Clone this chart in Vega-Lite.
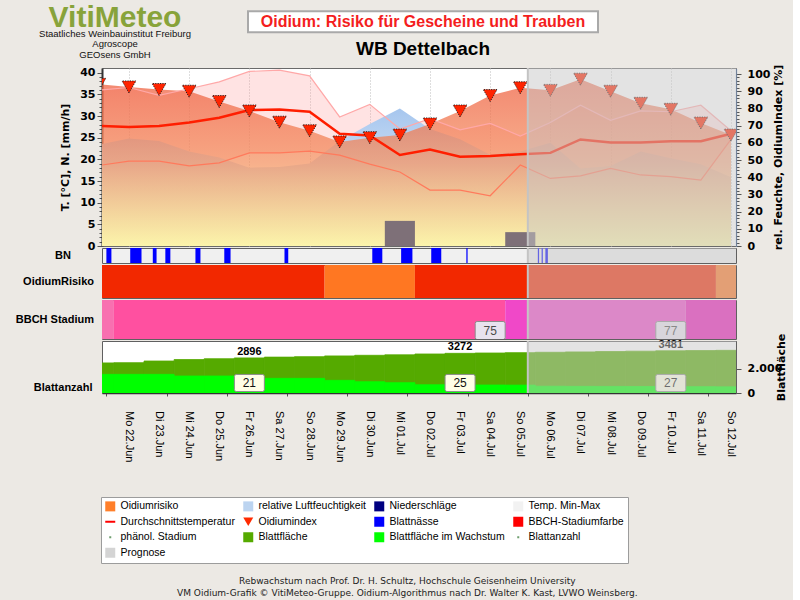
{
  "$schema": "https://vega.github.io/schema/vega-lite/v6.json",
  "usermeta": {"embedOptions": {"actions": false}},
  "background": "#ECE9E4",
  "padding": {"left": 15, "top": 2, "right": 5, "bottom": 2},
  "bounds": "flush",
  "spacing": 2,
  "title": {
    "text": "Rebwachstum nach Prof. Dr. H. Schultz, Hochschule Geisenheim University",
    "subtitle": "VM Oidium-Grafik © VitiMeteo-Gruppe. Oidium-Algorithmus nach Dr. Walter K. Kast, LVWO Weinsberg.",
    "orient": "bottom", "anchor": "middle", "offset": 13, "dx": 6,
    "font": "DejaVu Sans", "fontSize": 9, "fontWeight": "normal", "color": "#222222",
    "subtitleFont": "DejaVu Sans", "subtitleFontSize": 9, "subtitleColor": "#222222", "subtitlePadding": 3
  },
  "resolve": {"scale": {"color": "independent", "fill": "independent", "shape": "independent"}},
  "datasets": {
    "daily": [
      {"date": "2020-06-21T00:00:00", "tmax": 36.0, "tavg": 27.7, "tmin": 18.6, "rh": 59, "oi": 94},
      {"date": "2020-06-22T00:00:00", "tmax": 36.6, "tavg": 27.5, "tmin": 19.6, "rh": 62.5, "oi": 92.5},
      {"date": "2020-06-23T00:00:00", "tmax": 34.8, "tavg": 27.7, "tmin": 19.6, "rh": 61, "oi": 91},
      {"date": "2020-06-24T00:00:00", "tmax": 36.3, "tavg": 28.5, "tmin": 18.5, "rh": 55, "oi": 90},
      {"date": "2020-06-25T00:00:00", "tmax": 37.9, "tavg": 29.6, "tmin": 19.2, "rh": 51.5, "oi": 84},
      {"date": "2020-06-26T00:00:00", "tmax": 40.3, "tavg": 31.4, "tmin": 21.5, "rh": 45.5, "oi": 78.5},
      {"date": "2020-06-27T00:00:00", "tmax": 40.6, "tavg": 31.5, "tmin": 21.5, "rh": 46, "oi": 72},
      {"date": "2020-06-28T00:00:00", "tmax": 39.3, "tavg": 31.0, "tmin": 21.9, "rh": 48, "oi": 67},
      {"date": "2020-06-29T00:00:00", "tmax": 29.8, "tavg": 25.9, "tmin": 21.0, "rh": 61, "oi": 60.5},
      {"date": "2020-06-30T00:00:00", "tmax": 32.7, "tavg": 25.5, "tmin": 18.9, "rh": 71, "oi": 63},
      {"date": "2020-07-01T00:00:00", "tmax": 27.0, "tavg": 21.0, "tmin": 17.1, "rh": 80, "oi": 64.5},
      {"date": "2020-07-02T00:00:00", "tmax": 29.4, "tavg": 22.3, "tmin": 12.9, "rh": 68, "oi": 71},
      {"date": "2020-07-03T00:00:00", "tmax": 26.8, "tavg": 20.6, "tmin": 12.9, "rh": 62, "oi": 78.5},
      {"date": "2020-07-04T00:00:00", "tmax": 28.3, "tavg": 20.8, "tmin": 11.6, "rh": 53, "oi": 87.5},
      {"date": "2020-07-05T00:00:00", "tmax": 25.4, "tavg": 21.2, "tmin": 18.7, "rh": 55, "oi": 92},
      {"date": "2020-07-06T00:00:00", "tmax": 28.5, "tavg": 21.5, "tmin": 15.6, "rh": 60, "oi": 90.5},
      {"date": "2020-07-07T00:00:00", "tmax": 32.5, "tavg": 24.6, "tmin": 16.2, "rh": 45, "oi": 97},
      {"date": "2020-07-08T00:00:00", "tmax": 29.0, "tavg": 23.9, "tmin": 17.9, "rh": 46.5, "oi": 90},
      {"date": "2020-07-09T00:00:00", "tmax": 31.2, "tavg": 23.9, "tmin": 16.4, "rh": 55, "oi": 83},
      {"date": "2020-07-10T00:00:00", "tmax": 31.0, "tavg": 24.2, "tmin": 16.0, "rh": 51, "oi": 79.5},
      {"date": "2020-07-11T00:00:00", "tmax": 32.5, "tavg": 24.2, "tmin": 15.2, "rh": 47.5, "oi": 71.5},
      {"date": "2020-07-12T00:00:00", "tmax": 26.6, "tavg": 25.9, "tmin": 24.6, "rh": 40, "oi": 64.5}
    ],
    "days": [
      {"date": "2020-06-22T00:00:00", "label": "Mo 22.Jun"},
      {"date": "2020-06-23T00:00:00", "label": "Di 23.Jun"},
      {"date": "2020-06-24T00:00:00", "label": "Mi 24.Jun"},
      {"date": "2020-06-25T00:00:00", "label": "Do 25.Jun"},
      {"date": "2020-06-26T00:00:00", "label": "Fr 26.Jun"},
      {"date": "2020-06-27T00:00:00", "label": "Sa 27.Jun"},
      {"date": "2020-06-28T00:00:00", "label": "So 28.Jun"},
      {"date": "2020-06-29T00:00:00", "label": "Mo 29.Jun"},
      {"date": "2020-06-30T00:00:00", "label": "Di 30.Jun"},
      {"date": "2020-07-01T00:00:00", "label": "Mi 01.Jul"},
      {"date": "2020-07-02T00:00:00", "label": "Do 02.Jul"},
      {"date": "2020-07-03T00:00:00", "label": "Fr 03.Jul"},
      {"date": "2020-07-04T00:00:00", "label": "Sa 04.Jul"},
      {"date": "2020-07-05T00:00:00", "label": "So 05.Jul"},
      {"date": "2020-07-06T00:00:00", "label": "Mo 06.Jul"},
      {"date": "2020-07-07T00:00:00", "label": "Di 07.Jul"},
      {"date": "2020-07-08T00:00:00", "label": "Mi 08.Jul"},
      {"date": "2020-07-09T00:00:00", "label": "Do 09.Jul"},
      {"date": "2020-07-10T00:00:00", "label": "Fr 10.Jul"},
      {"date": "2020-07-11T00:00:00", "label": "Sa 11.Jul"},
      {"date": "2020-07-12T00:00:00", "label": "So 12.Jul"}
    ],
    "precip": [
      {"start": "2020-06-30T12:00:00", "end": "2020-07-01T12:00:00", "n": 5.8},
      {"start": "2020-07-04T12:00:00", "end": "2020-07-05T12:00:00", "n": 3.2}
    ],
    "prog": [{"start": "2020-07-05T06:00:00", "end": "2020-07-12T12:00:00"}],
    "bn": [
      {"start": "2020-06-21T06:00:00", "end": "2020-06-21T10:00:00"},
      {"start": "2020-06-22T01:00:00", "end": "2020-06-22T10:00:00"},
      {"start": "2020-06-22T19:00:00", "end": "2020-06-22T22:00:00"},
      {"start": "2020-06-23T05:00:00", "end": "2020-06-23T09:00:00"},
      {"start": "2020-06-24T05:00:00", "end": "2020-06-24T09:00:00"},
      {"start": "2020-06-25T04:00:00", "end": "2020-06-25T09:00:00"},
      {"start": "2020-06-27T04:00:00", "end": "2020-06-27T07:00:00"},
      {"start": "2020-06-30T02:00:00", "end": "2020-06-30T10:00:00"},
      {"start": "2020-07-01T01:00:00", "end": "2020-07-01T10:00:00"},
      {"start": "2020-07-02T01:00:00", "end": "2020-07-02T09:00:00"},
      {"start": "2020-07-03T05:00:00", "end": "2020-07-03T06:00:00"},
      {"start": "2020-07-05T14:00:00", "end": "2020-07-05T15:00:00"},
      {"start": "2020-07-05T17:00:00", "end": "2020-07-05T18:00:00"},
      {"start": "2020-07-05T20:00:00", "end": "2020-07-05T22:00:00"}
    ],
    "risk": [
      {"start": "2020-06-20T12:00:00", "end": "2020-06-28T12:00:00", "risiko": "hoch"},
      {"start": "2020-06-28T12:00:00", "end": "2020-07-01T12:00:00", "risiko": "mittel"},
      {"start": "2020-07-01T12:00:00", "end": "2020-07-11T12:00:00", "risiko": "hoch"},
      {"start": "2020-07-11T12:00:00", "end": "2020-07-12T12:00:00", "risiko": "mittel"}
    ],
    "bbch": [
      {"start": "2020-06-20T12:00:00", "end": "2020-06-21T12:00:00", "stadium": "73"},
      {"start": "2020-06-21T12:00:00", "end": "2020-07-04T12:00:00", "stadium": "75"},
      {"start": "2020-07-04T12:00:00", "end": "2020-07-10T12:00:00", "stadium": "77"},
      {"start": "2020-07-10T12:00:00", "end": "2020-07-12T12:00:00", "stadium": "79"}
    ],
    "bbchlab": [
      {"date": "2020-07-04T00:00:00", "stadium": "75"},
      {"date": "2020-07-10T00:00:00", "stadium": "77"}
    ],
    "blatt": [
      {"start": "2020-06-20T12:00:00", "end": "2020-06-21T12:00:00", "bf": 2480, "bw": 1540},
      {"start": "2020-06-21T12:00:00", "end": "2020-06-22T12:00:00", "bf": 2500, "bw": 1540},
      {"start": "2020-06-22T12:00:00", "end": "2020-06-23T12:00:00", "bf": 2640, "bw": 1540},
      {"start": "2020-06-23T12:00:00", "end": "2020-06-24T12:00:00", "bf": 2760, "bw": 1400},
      {"start": "2020-06-24T12:00:00", "end": "2020-06-25T12:00:00", "bf": 2830, "bw": 1400},
      {"start": "2020-06-25T12:00:00", "end": "2020-06-26T12:00:00", "bf": 2896, "bw": 1260},
      {"start": "2020-06-26T12:00:00", "end": "2020-06-27T12:00:00", "bf": 2960, "bw": 1210},
      {"start": "2020-06-27T12:00:00", "end": "2020-06-28T12:00:00", "bf": 3000, "bw": 1210},
      {"start": "2020-06-28T12:00:00", "end": "2020-06-29T12:00:00", "bf": 3060, "bw": 1045},
      {"start": "2020-06-29T12:00:00", "end": "2020-06-30T12:00:00", "bf": 3110, "bw": 930},
      {"start": "2020-06-30T12:00:00", "end": "2020-07-01T12:00:00", "bf": 3150, "bw": 850},
      {"start": "2020-07-01T12:00:00", "end": "2020-07-02T12:00:00", "bf": 3220, "bw": 680},
      {"start": "2020-07-02T12:00:00", "end": "2020-07-03T12:00:00", "bf": 3272, "bw": 670},
      {"start": "2020-07-03T12:00:00", "end": "2020-07-04T12:00:00", "bf": 3300, "bw": 660},
      {"start": "2020-07-04T12:00:00", "end": "2020-07-05T12:00:00", "bf": 3330, "bw": 650},
      {"start": "2020-07-05T12:00:00", "end": "2020-07-06T12:00:00", "bf": 3360, "bw": 560},
      {"start": "2020-07-06T12:00:00", "end": "2020-07-07T12:00:00", "bf": 3390, "bw": 550},
      {"start": "2020-07-07T12:00:00", "end": "2020-07-08T12:00:00", "bf": 3420, "bw": 545},
      {"start": "2020-07-08T12:00:00", "end": "2020-07-09T12:00:00", "bf": 3450, "bw": 540},
      {"start": "2020-07-09T12:00:00", "end": "2020-07-10T12:00:00", "bf": 3481, "bw": 530},
      {"start": "2020-07-10T12:00:00", "end": "2020-07-11T12:00:00", "bf": 3500, "bw": 520},
      {"start": "2020-07-11T12:00:00", "end": "2020-07-12T12:00:00", "bf": 3520, "bw": 510}
    ],
    "blattlab": [
      {"date": "2020-06-26T00:00:00", "bf": 2896, "anzahl": "21"},
      {"date": "2020-07-03T00:00:00", "bf": 3272, "anzahl": "25"},
      {"date": "2020-07-10T00:00:00", "bf": 3481, "anzahl": "27"}
    ],
    "legenditems": [
      {"item": "Oidiumrisiko"}, {"item": "relative Luftfeuchtigkeit"}, {"item": "Niederschläge"}, {"item": "Temp. Min-Max"},
      {"item": "Durchschnittstemperatur"}, {"item": "Oidiumindex"}, {"item": "Blattnässe"}, {"item": "BBCH-Stadiumfarbe"},
      {"item": "phänol. Stadium"}, {"item": "Blattfläche"}, {"item": "Blattfläche im Wachstum"}, {"item": "Blattanzahl"},
      {"item": "Prognose"}
    ]
  },
  "vconcat": [
    {
      "width": 634, "height": 55,
      "view": {"stroke": null, "fill": null},
      "title": {
        "text": "VitiMeteo",
        "subtitle": ["Staatliches Weinbauinstitut Freiburg", "Agroscope", "GEOsens GmbH"],
        "orient": "top", "anchor": "start", "frame": "group", "align": "center", "dx": 13, "offset": -52,
        "font": "Liberation Sans", "fontSize": 30, "fontWeight": "bold", "color": "#88A33A",
        "subtitleFont": "Liberation Sans", "subtitleFontSize": 9.5, "subtitleColor": "#111111", "subtitlePadding": -4, "subtitleLineHeight": 10.5
      },
      "data": {"values": [
        {"row": "t", "label": "Oidium: Risiko für Gescheine und Trauben"},
        {"row": "s", "label": "WB Dettelbach"}
      ]},
      "encoding": {"y": {"field": "row", "type": "nominal", "scale": {"domain": ["t", "s"]}, "axis": null}},
      "layer": [
        {
          "transform": [{"filter": "datum.row === 't'"}],
          "mark": {"type": "point", "shape": "M-1,-0.06L1,-0.06L1,0.06L-1,0.06Z", "size": 122500, "filled": true, "fill": "#FFFFFF", "stroke": "#A9A9A9", "strokeWidth": 2, "opacity": 1},
          "encoding": {"xOffset": {"value": 4}, "yOffset": {"value": -3}}
        },
        {
          "transform": [{"filter": "datum.row === 't'"}],
          "mark": {"type": "text", "font": "Liberation Sans", "fontSize": 16, "fontWeight": "bold", "color": "#F41E1E", "dx": 4, "dy": -3},
          "encoding": {"text": {"field": "label"}}
        },
        {
          "transform": [{"filter": "datum.row === 's'"}],
          "mark": {"type": "text", "font": "Liberation Sans", "fontSize": 19, "fontWeight": "bold", "color": "#000000", "dx": 4, "dy": -3},
          "encoding": {"text": {"field": "label"}}
        }
      ]
    },
    {
      "width": 634, "height": 178,
      "view": {"fill": "#FFFFFF", "stroke": "#6A6A6A"},
      "resolve": {"scale": {"y": "independent"}},
      "layer": [
        {
          "data": {"name": "daily"},
          "mark": {"type": "area", "color": "#FF9A9A", "opacity": 0.28, "clip": true},
          "encoding": {
            "x": {"field": "date", "type": "temporal", "scale": {"domain": [{"year": 2020, "month": 6, "date": 21, "hours": 2, "minutes": 30}, {"year": 2020, "month": 7, "date": 12, "hours": 4}]},
              "axis": {"labels": false, "ticks": false, "domain": false, "title": null, "grid": true, "gridColor": "#BDBDBD", "gridDash": [1, 2],
                "values": [{"year": 2020, "month": 6, "date": 22}, {"year": 2020, "month": 6, "date": 23}, {"year": 2020, "month": 6, "date": 24}, {"year": 2020, "month": 6, "date": 25}, {"year": 2020, "month": 6, "date": 26}, {"year": 2020, "month": 6, "date": 27}, {"year": 2020, "month": 6, "date": 28}, {"year": 2020, "month": 6, "date": 29}, {"year": 2020, "month": 6, "date": 30}, {"year": 2020, "month": 7, "date": 1}, {"year": 2020, "month": 7, "date": 2}, {"year": 2020, "month": 7, "date": 3}, {"year": 2020, "month": 7, "date": 4}, {"year": 2020, "month": 7, "date": 5}, {"year": 2020, "month": 7, "date": 6}, {"year": 2020, "month": 7, "date": 7}, {"year": 2020, "month": 7, "date": 8}, {"year": 2020, "month": 7, "date": 9}, {"year": 2020, "month": 7, "date": 10}, {"year": 2020, "month": 7, "date": 11}, {"year": 2020, "month": 7, "date": 12}]}},
            "y": {"field": "tmax", "type": "quantitative", "scale": {"domain": [0, 41.1], "nice": false},
              "axis": {"orient": "left", "title": "T. [°C], N. [mm/h]", "values": [0,1,2,3,4,5,6,7,8,9,10,11,12,13,14,15,16,17,18,19,20,21,22,23,24,25,26,27,28,29,30,31,32,33,34,35,36,37,38,39,40],
                "labelExpr": "datum.value % 5 === 0 ? datum.value : ''", "labelOverlap": false,
                "tickSize": {"condition": {"test": "datum.value % 5 === 0", "value": 5}, "value": 3},
                "tickColor": "#555555", "domainColor": "#333333", "domainWidth": 2, "grid": false, "labelPadding": 2,
                "labelFont": "DejaVu Sans", "labelFontWeight": "bold", "labelFontSize": 11, "labelColor": "#000000",
                "titleFont": "DejaVu Sans", "titleFontWeight": "bold", "titleFontSize": 11, "titleColor": "#000000", "titlePadding": 9}},
            "y2": {"field": "tmin"}
          }
        },
        {
          "data": {"name": "daily"},
          "mark": {"type": "area", "clip": true, "color": {"x1": 0, "y1": 0, "x2": 0, "y2": 1, "gradient": "linear", "stops": [{"offset": 0, "color": "#A6C6EE"}, {"offset": 1, "color": "#FFFFFF"}]}},
          "encoding": {
            "x": {"field": "date", "type": "temporal", "scale": {"domain": [{"year": 2020, "month": 6, "date": 21, "hours": 2, "minutes": 30}, {"year": 2020, "month": 7, "date": 12, "hours": 4}]}},
            "y": {"field": "rh", "type": "quantitative", "scale": {"domain": [0, 103.5], "nice": false},
              "axis": {"orient": "right", "title": "rel. Feuchte, OidiumIndex [%]", "titleAngle": 270,
                "values": [0,2,4,6,8,10,12,14,16,18,20,22,24,26,28,30,32,34,36,38,40,42,44,46,48,50,52,54,56,58,60,62,64,66,68,70,72,74,76,78,80,82,84,86,88,90,92,94,96,98,100],
                "labelExpr": "datum.value % 10 === 0 ? datum.value : ''", "labelOverlap": false,
                "tickSize": {"condition": {"test": "datum.value % 10 === 0", "value": 5}, "value": 3},
                "tickColor": "#555555", "domainColor": "#7C9CCC", "domainDash": [1, 1], "domainWidth": 1.5, "grid": false, "labelPadding": 6,
                "labelFont": "DejaVu Sans", "labelFontWeight": "bold", "labelFontSize": 11, "labelColor": "#000000",
                "titleFont": "DejaVu Sans", "titleFontWeight": "bold", "titleFontSize": 11, "titleColor": "#000000", "titlePadding": 14}}
          }
        },
        {
          "data": {"name": "daily"},
          "mark": {"type": "area", "clip": true, "opacity": 0.72, "color": {"x1": 0, "y1": 0, "x2": 0, "y2": 1, "gradient": "linear", "stops": [{"offset": 0, "color": "#EE5A3A"}, {"offset": 0.5, "color": "#F4905E"}, {"offset": 1, "color": "#FAF08A"}]}},
          "encoding": {
            "x": {"field": "date", "type": "temporal", "scale": {"domain": [{"year": 2020, "month": 6, "date": 21, "hours": 2, "minutes": 30}, {"year": 2020, "month": 7, "date": 12, "hours": 4}]}},
            "y": {"field": "oi", "type": "quantitative", "scale": {"domain": [0, 103.5], "nice": false}, "axis": null}
          }
        },
        {
          "data": {"name": "precip"},
          "mark": {"type": "rect", "color": "#7E7078", "clip": true},
          "encoding": {
            "x": {"field": "start", "type": "temporal", "scale": {"domain": [{"year": 2020, "month": 6, "date": 21, "hours": 2, "minutes": 30}, {"year": 2020, "month": 7, "date": 12, "hours": 4}]}},
            "x2": {"field": "end"},
            "y": {"field": "n", "type": "quantitative", "scale": {"domain": [0, 41.1], "nice": false}, "axis": null},
            "y2": {"datum": 0}
          }
        },
        {
          "data": {"name": "daily"},
          "mark": {"type": "line", "color": "#FFA8A8", "strokeWidth": 1.2, "clip": true},
          "encoding": {
            "x": {"field": "date", "type": "temporal", "scale": {"domain": [{"year": 2020, "month": 6, "date": 21, "hours": 2, "minutes": 30}, {"year": 2020, "month": 7, "date": 12, "hours": 4}]}},
            "y": {"field": "tmax", "type": "quantitative", "scale": {"domain": [0, 41.1], "nice": false}, "axis": null}
          }
        },
        {
          "data": {"name": "daily"},
          "mark": {"type": "line", "color": "#FF7A5C", "strokeWidth": 1.2, "clip": true},
          "encoding": {
            "x": {"field": "date", "type": "temporal", "scale": {"domain": [{"year": 2020, "month": 6, "date": 21, "hours": 2, "minutes": 30}, {"year": 2020, "month": 7, "date": 12, "hours": 4}]}},
            "y": {"field": "tmin", "type": "quantitative", "scale": {"domain": [0, 41.1], "nice": false}, "axis": null}
          }
        },
        {
          "data": {"name": "daily"},
          "mark": {"type": "line", "color": "#FF1E00", "strokeWidth": 2.5, "clip": true},
          "encoding": {
            "x": {"field": "date", "type": "temporal", "scale": {"domain": [{"year": 2020, "month": 6, "date": 21, "hours": 2, "minutes": 30}, {"year": 2020, "month": 7, "date": 12, "hours": 4}]}},
            "y": {"field": "tavg", "type": "quantitative", "scale": {"domain": [0, 41.1], "nice": false}, "axis": null}
          }
        },
        {
          "data": {"name": "daily"},
          "mark": {"type": "point", "shape": "triangle-down", "size": 190, "filled": true, "fill": "#FF2400", "stroke": "#1A1A1A", "strokeWidth": 0.9, "strokeDash": [1.2, 1.2], "opacity": 1, "clip": true},
          "encoding": {
            "x": {"field": "date", "type": "temporal", "scale": {"domain": [{"year": 2020, "month": 6, "date": 21, "hours": 2, "minutes": 30}, {"year": 2020, "month": 7, "date": 12, "hours": 4}]}},
            "y": {"field": "oi", "type": "quantitative", "scale": {"domain": [0, 103.5], "nice": false}, "axis": null}
          }
        },
        {
          "data": {"name": "prog"},
          "mark": {"type": "rect", "color": "#C8C8C8", "opacity": 0.5, "clip": true},
          "encoding": {
            "x": {"field": "start", "type": "temporal", "scale": {"domain": [{"year": 2020, "month": 6, "date": 21, "hours": 2, "minutes": 30}, {"year": 2020, "month": 7, "date": 12, "hours": 4}]}},
            "x2": {"field": "end"}
          }
        },
        {
          "data": {"name": "prog"},
          "mark": {"type": "rule", "color": "#C4C4C4", "strokeWidth": 2},
          "encoding": {
            "x": {"field": "start", "type": "temporal", "scale": {"domain": [{"year": 2020, "month": 6, "date": 21, "hours": 2, "minutes": 30}, {"year": 2020, "month": 7, "date": 12, "hours": 4}]}}
          }
        }
      ]
    },
    {
      "width": 634, "height": 15,
      "view": {"fill": "#F0F0F0", "stroke": "#606060"},
      "title": {"text": "BN", "orient": "left", "angle": 0, "align": "left", "baseline": "middle", "anchor": "middle", "offset": 31, "font": "Liberation Sans", "fontSize": 11, "fontWeight": "bold", "color": "#000000"},
      "layer": [
        {
          "data": {"name": "bn"},
          "mark": {"type": "rect", "color": "#0000FF", "clip": true},
          "encoding": {
            "x": {"field": "start", "type": "temporal", "scale": {"domain": [{"year": 2020, "month": 6, "date": 21, "hours": 2, "minutes": 30}, {"year": 2020, "month": 7, "date": 12, "hours": 4}]}, "axis": null},
            "x2": {"field": "end"}
          }
        },
        {
          "data": {"name": "prog"},
          "mark": {"type": "rect", "color": "#C8C8C8", "opacity": 0.5, "clip": true},
          "encoding": {
            "x": {"field": "start", "type": "temporal", "scale": {"domain": [{"year": 2020, "month": 6, "date": 21, "hours": 2, "minutes": 30}, {"year": 2020, "month": 7, "date": 12, "hours": 4}]}, "axis": null},
            "x2": {"field": "end"}
          }
        },
        {
          "data": {"name": "prog"},
          "mark": {"type": "rule", "color": "#C4C4C4", "strokeWidth": 2},
          "encoding": {"x": {"field": "start", "type": "temporal", "scale": {"domain": [{"year": 2020, "month": 6, "date": 21, "hours": 2, "minutes": 30}, {"year": 2020, "month": 7, "date": 12, "hours": 4}]}, "axis": null}}
        }
      ]
    },
    {
      "width": 634, "height": 33,
      "view": {"fill": "#FFFFFF", "stroke": "#606060"},
      "title": {"text": "OidiumRisiko", "orient": "left", "angle": 0, "align": "left", "baseline": "middle", "anchor": "middle", "offset": 8, "font": "Liberation Sans", "fontSize": 11, "fontWeight": "bold", "color": "#000000"},
      "layer": [
        {
          "data": {"name": "risk"},
          "mark": {"type": "rect", "clip": true},
          "encoding": {
            "x": {"field": "start", "type": "temporal", "scale": {"domain": [{"year": 2020, "month": 6, "date": 21, "hours": 2, "minutes": 30}, {"year": 2020, "month": 7, "date": 12, "hours": 4}]}, "axis": null},
            "x2": {"field": "end"},
            "color": {"field": "risiko", "type": "nominal", "scale": {"domain": ["hoch", "mittel"], "range": ["#F22800", "#FF7722"]}, "legend": null}
          }
        },
        {
          "data": {"name": "prog"},
          "mark": {"type": "rect", "color": "#C8C8C8", "opacity": 0.5, "clip": true},
          "encoding": {
            "x": {"field": "start", "type": "temporal", "scale": {"domain": [{"year": 2020, "month": 6, "date": 21, "hours": 2, "minutes": 30}, {"year": 2020, "month": 7, "date": 12, "hours": 4}]}, "axis": null},
            "x2": {"field": "end"}
          }
        },
        {
          "data": {"name": "prog"},
          "mark": {"type": "rule", "color": "#C4C4C4", "strokeWidth": 2},
          "encoding": {"x": {"field": "start", "type": "temporal", "scale": {"domain": [{"year": 2020, "month": 6, "date": 21, "hours": 2, "minutes": 30}, {"year": 2020, "month": 7, "date": 12, "hours": 4}]}, "axis": null}}
        }
      ]
    },
    {
      "width": 634, "height": 39,
      "view": {"fill": "#FFFFFF", "stroke": "#606060"},
      "title": {"text": "BBCH Stadium", "orient": "left", "angle": 0, "align": "left", "baseline": "middle", "anchor": "middle", "offset": 8, "font": "Liberation Sans", "fontSize": 11, "fontWeight": "bold", "color": "#000000"},
      "layer": [
        {
          "data": {"name": "bbch"},
          "mark": {"type": "rect", "clip": true},
          "encoding": {
            "x": {"field": "start", "type": "temporal", "scale": {"domain": [{"year": 2020, "month": 6, "date": 21, "hours": 2, "minutes": 30}, {"year": 2020, "month": 7, "date": 12, "hours": 4}]}, "axis": null},
            "x2": {"field": "end"},
            "color": {"field": "stadium", "type": "nominal", "scale": {"domain": ["73", "75", "77", "79"], "range": ["#F870B0", "#FF50A0", "#F048C8", "#EC18B8"]}, "legend": null}
          }
        },
        {
          "data": {"name": "bbchlab"},
          "mark": {"type": "point", "shape": "M-0.87,-0.6L0.87,-0.6Q1,-0.6 1,-0.47L1,0.47Q1,0.6 0.87,0.6L-0.87,0.6Q-1,0.6 -1,0.47L-1,-0.47Q-1,-0.6 -0.87,-0.6Z", "size": 900, "filled": true, "fill": "#E8E2EE", "stroke": "#8C8C8C", "strokeWidth": 1, "opacity": 1, "clip": true},
          "encoding": {
            "x": {"field": "date", "type": "temporal", "scale": {"domain": [{"year": 2020, "month": 6, "date": 21, "hours": 2, "minutes": 30}, {"year": 2020, "month": 7, "date": 12, "hours": 4}]}, "axis": null},
            "yOffset": {"value": 11}
          }
        },
        {
          "data": {"name": "bbchlab"},
          "mark": {"type": "text", "font": "Liberation Sans", "fontSize": 12, "color": "#4A4A4A", "dy": 11},
          "encoding": {
            "x": {"field": "date", "type": "temporal", "scale": {"domain": [{"year": 2020, "month": 6, "date": 21, "hours": 2, "minutes": 30}, {"year": 2020, "month": 7, "date": 12, "hours": 4}]}, "axis": null},
            "text": {"field": "stadium"}
          }
        },
        {
          "data": {"name": "prog"},
          "mark": {"type": "rect", "color": "#C8C8C8", "opacity": 0.5, "clip": true},
          "encoding": {
            "x": {"field": "start", "type": "temporal", "scale": {"domain": [{"year": 2020, "month": 6, "date": 21, "hours": 2, "minutes": 30}, {"year": 2020, "month": 7, "date": 12, "hours": 4}]}, "axis": null},
            "x2": {"field": "end"}
          }
        },
        {
          "data": {"name": "prog"},
          "mark": {"type": "rule", "color": "#C4C4C4", "strokeWidth": 2},
          "encoding": {"x": {"field": "start", "type": "temporal", "scale": {"domain": [{"year": 2020, "month": 6, "date": 21, "hours": 2, "minutes": 30}, {"year": 2020, "month": 7, "date": 12, "hours": 4}]}, "axis": null}}
        }
      ]
    },
    {
      "width": 634, "height": 52,
      "view": {"fill": "#FFFFFF", "stroke": "#606060"},
      "title": {"text": "Blattanzahl", "orient": "left", "angle": 0, "align": "left", "baseline": "middle", "anchor": "middle", "dy": 21, "offset": 8, "font": "Liberation Sans", "fontSize": 11, "fontWeight": "bold", "color": "#000000"},
      "layer": [
        {
          "data": {"name": "blatt"},
          "mark": {"type": "rect", "color": "#55AA00", "stroke": "#55AA00", "strokeWidth": 0.8, "clip": true},
          "encoding": {
            "x": {"field": "start", "type": "temporal", "scale": {"domain": [{"year": 2020, "month": 6, "date": 21, "hours": 2, "minutes": 30}, {"year": 2020, "month": 7, "date": 12, "hours": 4}]},
              "axis": {"orient": "bottom", "title": null, "labels": false,
                "values": [{"year": 2020, "month": 6, "date": 21, "hours": 6}, {"year": 2020, "month": 6, "date": 21, "hours": 12}, {"year": 2020, "month": 6, "date": 21, "hours": 18},
                  {"year": 2020, "month": 6, "date": 22, "hours": 0}, {"year": 2020, "month": 6, "date": 22, "hours": 6}, {"year": 2020, "month": 6, "date": 22, "hours": 12}, {"year": 2020, "month": 6, "date": 22, "hours": 18},
                  {"year": 2020, "month": 6, "date": 23, "hours": 0}, {"year": 2020, "month": 6, "date": 23, "hours": 6}, {"year": 2020, "month": 6, "date": 23, "hours": 12}, {"year": 2020, "month": 6, "date": 23, "hours": 18},
                  {"year": 2020, "month": 6, "date": 24, "hours": 0}, {"year": 2020, "month": 6, "date": 24, "hours": 6}, {"year": 2020, "month": 6, "date": 24, "hours": 12}, {"year": 2020, "month": 6, "date": 24, "hours": 18},
                  {"year": 2020, "month": 6, "date": 25, "hours": 0}, {"year": 2020, "month": 6, "date": 25, "hours": 6}, {"year": 2020, "month": 6, "date": 25, "hours": 12}, {"year": 2020, "month": 6, "date": 25, "hours": 18},
                  {"year": 2020, "month": 6, "date": 26, "hours": 0}, {"year": 2020, "month": 6, "date": 26, "hours": 6}, {"year": 2020, "month": 6, "date": 26, "hours": 12}, {"year": 2020, "month": 6, "date": 26, "hours": 18},
                  {"year": 2020, "month": 6, "date": 27, "hours": 0}, {"year": 2020, "month": 6, "date": 27, "hours": 6}, {"year": 2020, "month": 6, "date": 27, "hours": 12}, {"year": 2020, "month": 6, "date": 27, "hours": 18},
                  {"year": 2020, "month": 6, "date": 28, "hours": 0}, {"year": 2020, "month": 6, "date": 28, "hours": 6}, {"year": 2020, "month": 6, "date": 28, "hours": 12}, {"year": 2020, "month": 6, "date": 28, "hours": 18},
                  {"year": 2020, "month": 6, "date": 29, "hours": 0}, {"year": 2020, "month": 6, "date": 29, "hours": 6}, {"year": 2020, "month": 6, "date": 29, "hours": 12}, {"year": 2020, "month": 6, "date": 29, "hours": 18},
                  {"year": 2020, "month": 6, "date": 30, "hours": 0}, {"year": 2020, "month": 6, "date": 30, "hours": 6}, {"year": 2020, "month": 6, "date": 30, "hours": 12}, {"year": 2020, "month": 6, "date": 30, "hours": 18},
                  {"year": 2020, "month": 7, "date": 1, "hours": 0}, {"year": 2020, "month": 7, "date": 1, "hours": 6}, {"year": 2020, "month": 7, "date": 1, "hours": 12}, {"year": 2020, "month": 7, "date": 1, "hours": 18},
                  {"year": 2020, "month": 7, "date": 2, "hours": 0}, {"year": 2020, "month": 7, "date": 2, "hours": 6}, {"year": 2020, "month": 7, "date": 2, "hours": 12}, {"year": 2020, "month": 7, "date": 2, "hours": 18},
                  {"year": 2020, "month": 7, "date": 3, "hours": 0}, {"year": 2020, "month": 7, "date": 3, "hours": 6}, {"year": 2020, "month": 7, "date": 3, "hours": 12}, {"year": 2020, "month": 7, "date": 3, "hours": 18},
                  {"year": 2020, "month": 7, "date": 4, "hours": 0}, {"year": 2020, "month": 7, "date": 4, "hours": 6}, {"year": 2020, "month": 7, "date": 4, "hours": 12}, {"year": 2020, "month": 7, "date": 4, "hours": 18},
                  {"year": 2020, "month": 7, "date": 5, "hours": 0}, {"year": 2020, "month": 7, "date": 5, "hours": 6}, {"year": 2020, "month": 7, "date": 5, "hours": 12}, {"year": 2020, "month": 7, "date": 5, "hours": 18},
                  {"year": 2020, "month": 7, "date": 6, "hours": 0}, {"year": 2020, "month": 7, "date": 6, "hours": 6}, {"year": 2020, "month": 7, "date": 6, "hours": 12}, {"year": 2020, "month": 7, "date": 6, "hours": 18},
                  {"year": 2020, "month": 7, "date": 7, "hours": 0}, {"year": 2020, "month": 7, "date": 7, "hours": 6}, {"year": 2020, "month": 7, "date": 7, "hours": 12}, {"year": 2020, "month": 7, "date": 7, "hours": 18},
                  {"year": 2020, "month": 7, "date": 8, "hours": 0}, {"year": 2020, "month": 7, "date": 8, "hours": 6}, {"year": 2020, "month": 7, "date": 8, "hours": 12}, {"year": 2020, "month": 7, "date": 8, "hours": 18},
                  {"year": 2020, "month": 7, "date": 9, "hours": 0}, {"year": 2020, "month": 7, "date": 9, "hours": 6}, {"year": 2020, "month": 7, "date": 9, "hours": 12}, {"year": 2020, "month": 7, "date": 9, "hours": 18},
                  {"year": 2020, "month": 7, "date": 10, "hours": 0}, {"year": 2020, "month": 7, "date": 10, "hours": 6}, {"year": 2020, "month": 7, "date": 10, "hours": 12}, {"year": 2020, "month": 7, "date": 10, "hours": 18},
                  {"year": 2020, "month": 7, "date": 11, "hours": 0}, {"year": 2020, "month": 7, "date": 11, "hours": 6}, {"year": 2020, "month": 7, "date": 11, "hours": 12}, {"year": 2020, "month": 7, "date": 11, "hours": 18},
                  {"year": 2020, "month": 7, "date": 12, "hours": 0}],
                "tickSize": 3, "tickColor": "#555555", "domainColor": "#333333", "domainWidth": 1.5,
                "grid": true, "gridDash": [1, 2], "gridColor": "#BDBDBD",
                "gridOpacity": {"condition": {"test": "hours(datum.value) === 0", "value": 1}, "value": 0}}},
            "x2": {"field": "end"},
            "y": {"field": "bf", "type": "quantitative", "scale": {"domain": [0, 4290], "nice": false},
              "axis": {"orient": "right", "title": "Blattfläche", "titleAngle": 270, "values": [0, 2000],
                "labelExpr": "datum.value === 0 ? '0' : '2.000'", "labelOverlap": false,
                "tickSize": 5, "tickColor": "#555555", "domainColor": "#606060", "grid": false, "labelPadding": 6,
                "labelFont": "DejaVu Sans", "labelFontWeight": "bold", "labelFontSize": 11, "labelColor": "#000000",
                "titleFont": "DejaVu Sans", "titleFontWeight": "bold", "titleFontSize": 11, "titleColor": "#000000", "titlePadding": 5}},
            "y2": {"datum": 0}
          }
        },
        {
          "data": {"name": "blatt"},
          "mark": {"type": "rect", "color": "#00FF00", "stroke": "#00FF00", "strokeWidth": 0.8, "clip": true},
          "encoding": {
            "x": {"field": "start", "type": "temporal", "scale": {"domain": [{"year": 2020, "month": 6, "date": 21, "hours": 2, "minutes": 30}, {"year": 2020, "month": 7, "date": 12, "hours": 4}]}},
            "x2": {"field": "end"},
            "y": {"field": "bw", "type": "quantitative", "scale": {"domain": [0, 4290], "nice": false}},
            "y2": {"datum": 0}
          }
        },
        {
          "data": {"name": "blattlab"},
          "mark": {"type": "text", "font": "Liberation Sans", "fontSize": 11, "fontWeight": "bold", "color": "#000000", "baseline": "middle", "dy": -6},
          "encoding": {
            "x": {"field": "date", "type": "temporal", "scale": {"domain": [{"year": 2020, "month": 6, "date": 21, "hours": 2, "minutes": 30}, {"year": 2020, "month": 7, "date": 12, "hours": 4}]}},
            "y": {"field": "bf", "type": "quantitative", "scale": {"domain": [0, 4290], "nice": false}},
            "text": {"field": "bf", "type": "quantitative", "format": "d"}
          }
        },
        {
          "data": {"name": "blattlab"},
          "mark": {"type": "point", "shape": "M-0.87,-0.57L0.87,-0.57Q1,-0.57 1,-0.44L1,0.44Q1,0.57 0.87,0.57L-0.87,0.57Q-1,0.57 -1,0.44L-1,-0.44Q-1,-0.57 -0.87,-0.57Z", "size": 900, "filled": true, "fill": "#FFFFE6", "stroke": "#8C8C8C", "strokeWidth": 1, "opacity": 1, "clip": true},
          "encoding": {
            "x": {"field": "date", "type": "temporal", "scale": {"domain": [{"year": 2020, "month": 6, "date": 21, "hours": 2, "minutes": 30}, {"year": 2020, "month": 7, "date": 12, "hours": 4}]}},
            "yOffset": {"value": 16}
          }
        },
        {
          "data": {"name": "blattlab"},
          "mark": {"type": "text", "font": "Liberation Sans", "fontSize": 12, "color": "#111111", "dy": 16},
          "encoding": {
            "x": {"field": "date", "type": "temporal", "scale": {"domain": [{"year": 2020, "month": 6, "date": 21, "hours": 2, "minutes": 30}, {"year": 2020, "month": 7, "date": 12, "hours": 4}]}},
            "text": {"field": "anzahl"}
          }
        },
        {
          "data": {"name": "legenditems"},
          "transform": [{"filter": "false"}],
          "mark": {"type": "point", "filled": true, "opacity": 1, "size": 100},
          "encoding": {
            "fill": {"field": "item", "type": "nominal",
              "scale": {"domain": ["Oidiumrisiko", "relative Luftfeuchtigkeit", "Niederschläge", "Temp. Min-Max", "Durchschnittstemperatur", "Oidiumindex", "Blattnässe", "BBCH-Stadiumfarbe", "phänol. Stadium", "Blattfläche", "Blattfläche im Wachstum", "Blattanzahl", "Prognose"],
                "range": ["#FF7F2A", "#BCD4F0", "#000080", "#F2F2F2", "#FF0000", "#FF2A00", "#0000FF", "#FF0000", "#6E9E6E", "#55AA00", "#00FF00", "#6E9E6E", "#D4D4D4"]},
              "legend": {"title": null,
                "orient": "none", "legendX": -1, "legendY": 156, "columns": 4, "direction": "horizontal",
                "fillColor": "#FFFFFF", "strokeColor": "#9C9C9C", "padding": 4, "rowPadding": 4.5, "columnPadding": 8, "labelOffset": 5,
                "labelFont": "Liberation Sans", "labelFontSize": 10.5, "labelColor": "#000000", "labelLimit": 400,
                "symbolSize": 100, "symbolStrokeWidth": 0, "symbolOpacity": 1}},
            "shape": {"field": "item", "type": "nominal",
              "scale": {"domain": ["Oidiumrisiko", "relative Luftfeuchtigkeit", "Niederschläge", "Temp. Min-Max", "Durchschnittstemperatur", "Oidiumindex", "Blattnässe", "BBCH-Stadiumfarbe", "phänol. Stadium", "Blattfläche", "Blattfläche im Wachstum", "Blattanzahl", "Prognose"],
                "range": ["square", "square", "square", "square", "M-1,-0.2L1,-0.2L1,0.2L-1,0.2Z", "triangle-down", "square", "square", "M-0.2,-0.2L0.2,-0.2L0.2,0.2L-0.2,0.2Z", "square", "square", "M-0.2,-0.2L0.2,-0.2L0.2,0.2L-0.2,0.2Z", "square"]}}
          }
        },
        {
          "data": {"name": "prog"},
          "mark": {"type": "rect", "color": "#C8C8C8", "opacity": 0.5, "clip": true},
          "encoding": {
            "x": {"field": "start", "type": "temporal", "scale": {"domain": [{"year": 2020, "month": 6, "date": 21, "hours": 2, "minutes": 30}, {"year": 2020, "month": 7, "date": 12, "hours": 4}]}},
            "x2": {"field": "end"}
          }
        },
        {
          "data": {"name": "prog"},
          "mark": {"type": "rule", "color": "#C4C4C4", "strokeWidth": 2},
          "encoding": {"x": {"field": "start", "type": "temporal", "scale": {"domain": [{"year": 2020, "month": 6, "date": 21, "hours": 2, "minutes": 30}, {"year": 2020, "month": 7, "date": 12, "hours": 4}]}}}
        },
        {
          "data": {"name": "days"},
          "mark": {"type": "text", "angle": 90, "align": "left", "baseline": "middle", "font": "Liberation Sans", "fontSize": 11, "color": "#000000"},
          "encoding": {
            "x": {"field": "date", "type": "temporal", "scale": {"domain": [{"year": 2020, "month": 6, "date": 21, "hours": 2, "minutes": 30}, {"year": 2020, "month": 7, "date": 12, "hours": 4}]}},
            "yOffset": {"value": 44},
            "text": {"field": "label"}
          }
        }
      ]
    }
  ],
  "config": {
    "font": "Liberation Sans",
    "view": {"stroke": "#606060"},
    "axis": {"labelOverlap": false}
  }
}
